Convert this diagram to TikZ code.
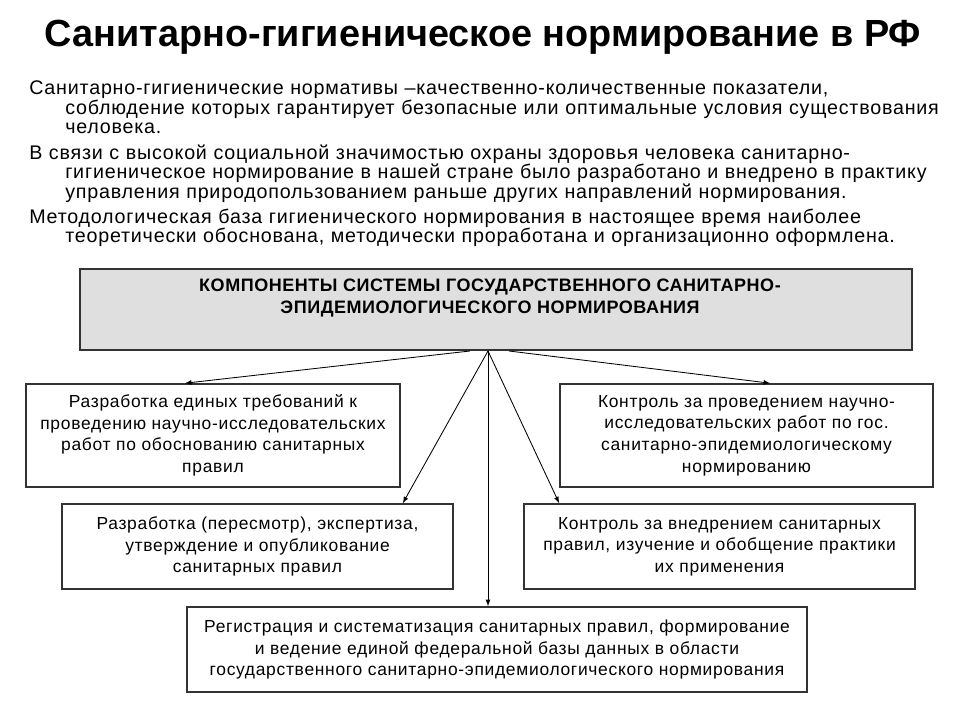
\documentclass[tikz,border=0pt]{standalone}
\usepackage{fontspec}
\setmainfont{Liberation Sans}
\newfontfamily\spacedfont{Liberation Sans}[LetterSpace=4]
\newfontfamily\headfont{Liberation Sans}[LetterSpace=3]
\usetikzlibrary{positioning}
\newcommand{\hangpara}[1]{\leavevmode\lineskiplimit=-20pt\relax\hangindent=0.9cm\relax\hangafter=1\relax\strut #1\par}

\begin{document}
\begin{tikzpicture}[x=0.025cm, y=-0.025cm,
  para/.style={anchor=north west, inner sep=0pt, text width=23.5cm,
    font=\spacedfont\fontsize{14}{13.9}\selectfont},
  box/.style={draw=black!80, line width=1.1pt, align=center, inner sep=0pt,
    font=\spacedfont\fontsize{12.4}{15.4}\selectfont},
  headbox/.style={draw=black!80, line width=1.1pt, fill=gray!25,
    minimum width=20.8cm, minimum height=2.025cm},
  link/.style={-latex, line width=0.6pt}]
  \useasboundingbox (0,0) rectangle (960,720);

  \node[font=\bfseries\fontsize{26.9}{30}\selectfont, anchor=base] (title) at (483,47)
    {Санитарно-гигиеническое нормирование в РФ};

  \node[para] (p1) at (29,80.5) {\hangpara{%
    Санитарно-гигиенические нормативы –качественно-количественные показатели,\newline
    соблюдение которых гарантирует безопасные или оптимальные условия существования\newline
    человека.}};
  \node[para] (p2) at (29,144.5) {\hangpara{%
    В связи с высокой социальной значимостью охраны здоровья человека санитарно-\newline
    гигиеническое нормирование в нашей стране было разработано и внедрено в практику\newline
    управления природопользованием раньше других направлений нормирования.}};
  \node[para] (p3) at (29,208.5) {\hangpara{%
    Методологическая база гигиенического нормирования в настоящее время наиболее\newline
    теоретически обоснована, методически проработана и организационно оформлена.}};

  % components
  \node[headbox] (head) at (496,309.5) {};
  \node[align=center, inner sep=0pt, font=\headfont\bfseries\fontsize{12.8}{15.6}\selectfont] (headtxt) at (490,298)
    {КОМПОНЕНТЫ СИСТЕМЫ ГОСУДАРСТВЕННОГО САНИТАРНО-\\ЭПИДЕМИОЛОГИЧЕСКОГО НОРМИРОВАНИЯ};

  \node[box, minimum width=9.35cm, minimum height=2.575cm] (dev) at (213,435.5)
    {Разработка единых требований к\\проведению научно-исследовательских\\работ по обоснованию санитарных\\правил};
  \node[box, minimum width=9.33cm, minimum height=2.575cm] (ctrl) at (746.5,435.5)
    {Контроль за проведением научно-\\исследовательских работ по гос.\\санитарно-эпидемиологическому\\нормированию};
  \node[box, minimum width=9.775cm, minimum height=2.125cm] (expert) at (257.5,546.5)
    {Разработка (пересмотр), экспертиза,\\утверждение и опубликование\\санитарных правил};
  \node[box, minimum width=9.775cm, minimum height=2.125cm] (impl) at (719.5,546.5)
    {Контроль за внедрением санитарных\\правил, изучение и обобщение практики\\их применения};
  \node[box, minimum width=15.5cm, minimum height=2.125cm] (reg) at (497,649.5)
    {Регистрация и систематизация санитарных правил, формирование\\и ведение единой федеральной базы данных в области\\государственного санитарно-эпидемиологического нормирования};

  \coordinate (hub) at (488,351);
  \coordinate (hubL) at (470,351);
  \coordinate (hubR) at (509,351);

  \draw[link] (hubL) -- ([xshift=-0.7cm]dev.north);
  \draw[link] (hubR) -- ([xshift=0.59cm]ctrl.north);
  \draw[link] (hub) -- ([xshift=-1.275cm]expert.north east);
  \draw[link] (hub) -- ([xshift=0.9cm]impl.north west);
  \draw[link] (hub) -- (hub |- reg.north);
\end{tikzpicture}
\end{document}
